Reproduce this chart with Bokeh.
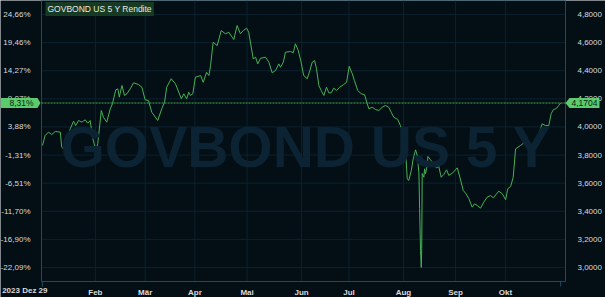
from bokeh.plotting import figure
from bokeh.models import (FixedTicker, LinearAxis, Range1d, Label, PolyAnnotation)
from bokeh.embed import file_html
from bokeh.resources import INLINE

# ---- data (trading-day index since 2023-12-29, yield in %) ----
day_idx = [1.7, 2.8, 4.2, 5.6, 7.1, 9.2, 9.8, 11.0, 11.9, 13.4, 14.8, 15.7, 16.9, 18.3,
           19.7, 20.8, 21.8, 22.8, 24.2, 25.0, 26.5, 27.4, 28.8, 30.3, 31.2, 32.6, 33.5,
           34.1, 35.2, 36.3, 37.3, 38.7, 40.1, 42.2, 43.6, 45.0, 46.4, 47.8, 50.3, 52.0,
           53.2, 54.1, 56.0, 57.8, 60.3, 61.3, 62.5, 63.4, 64.1, 65.1, 66.2, 68.4, 69.5,
           70.9, 71.9, 72.6, 73.7, 75.4, 77.1, 78.9, 80.3, 82.4, 83.8, 85.2, 86.4, 87.8,
           88.7, 90.6, 91.6, 92.5, 93.7, 95.8, 97.2, 98.6, 100.0, 101.4, 102.1, 103.3,
           104.2, 106.3, 107.5, 108.4, 109.6, 110.8, 111.9, 113.4, 114.5, 115.5, 116.5,
           117.3, 118.3, 119.3, 120.4, 121.5, 122.5, 123.5, 124.6, 125.7, 127.1, 128.6,
           130.0, 131.1, 132.4, 133.3, 134.7, 136.2, 137.6, 138.7, 139.4, 140.8, 142.2,
           143.6, 145.0, 146.4, 147.8, 148.8, 149.9, 151.6, 152.7, 154.1, 154.9, 155.6,
           156.2, 157.3, 158.1, 159.1, 159.8, 160.5, 160.8, 161.2, 161.5, 161.7, 161.9,
           162.6, 162.9, 163.3, 164.0, 164.3, 165.4, 166.8, 167.9, 168.9, 169.9, 171.0,
           172.2, 173.1, 174.6, 176.7, 177.8, 179.2, 180.2, 181.6, 183.0, 184.0, 185.1,
           186.5, 187.9, 189.3, 190.7, 191.9, 193.3, 194.2, 195.7, 197.1, 198.0, 199.2,
           200.3, 201.3, 203.4, 205.5, 206.5, 207.9, 209.3, 210.4, 211.1, 212.5, 213.9,
           215.3, 216.3, 217.2, 218.6, 219.5, 220.3]
yield_pct = [3.868, 3.939, 3.963, 3.946, 3.968, 3.963, 3.856, 3.837, 3.880, 3.987, 4.041,
             4.010, 4.046, 4.034, 4.051, 4.027, 4.046, 3.927, 3.832, 3.880, 4.117, 4.069,
             4.034, 4.129, 4.165, 4.264, 4.271, 4.212, 4.295, 4.224, 4.236, 4.271, 4.314,
             4.302, 4.283, 4.193, 4.188, 4.105, 4.046, 4.129, 4.176, 4.283, 4.343, 4.307,
             4.200, 4.236, 4.200, 4.247, 4.224, 4.236, 4.354, 4.366, 4.318, 4.389, 4.366,
             4.437, 4.603, 4.579, 4.686, 4.663, 4.674, 4.622, 4.722, 4.663, 4.686, 4.703,
             4.674, 4.485, 4.496, 4.449, 4.489, 4.496, 4.461, 4.385, 4.402, 4.449, 4.425,
             4.461, 4.532, 4.537, 4.528, 4.592, 4.544, 4.461, 4.366, 4.343, 4.402, 4.461,
             4.473, 4.414, 4.295, 4.259, 4.224, 4.283, 4.243, 4.243, 4.276, 4.259, 4.283,
             4.300, 4.318, 4.432, 4.378, 4.330, 4.259, 4.236, 4.229, 4.165, 4.129, 4.140,
             4.124, 4.117, 4.140, 4.153, 4.140, 4.105, 4.069, 4.053, 4.010, 3.939, 3.820,
             3.631, 3.619, 3.690, 3.773, 3.837, 3.797, 3.678, 3.420, 3.121, 3.000, 3.135,
             3.669, 3.642, 3.702, 3.667, 3.726, 3.790, 3.766, 3.738, 3.709, 3.719, 3.642,
             3.662, 3.695, 3.655, 3.671, 3.709, 3.642, 3.548, 3.529, 3.489, 3.429, 3.453,
             3.441, 3.422, 3.465, 3.500, 3.512, 3.496, 3.524, 3.543, 3.524, 3.482, 3.560,
             3.576, 3.642, 3.844, 3.868, 3.896, 3.891, 3.832, 3.891, 3.904, 3.951, 4.022,
             4.010, 4.010, 4.094, 4.122, 4.133, 4.153, 4.1704]

month_ticks = [24, 45, 66, 88, 111, 131, 154, 176, 197]
month_labels = ["Feb", "Mär", "Apr", "Mai", "Jun", "Jul", "Aug", "Sep", "Okt"]
start_label = "2023 Dez 29"

y_ticks = [3.0, 3.2, 3.4, 3.6, 3.8, 4.0, 4.2, 4.4, 4.6, 4.8]
y_labels_right = ["3,0000", "3,2000", "3,4000", "3,6000", "3,8000", "4,0000",
                  "4,2000", "4,4000", "4,6000", "4,8000"]
y_labels_left = ["-22,09%", "-16,90%", "-11,70%", "-6,51%", "-1,31%", "3,88%",
                 "9,07%", "14,27%", "19,46%", "24,66%"]

last_value = 4.1704
last_value_txt = "4,1704"
last_pct_txt = "8,31%"
title_txt = "GOVBOND US 5 Y Rendite"
watermark_txt = "GOVBOND US 5 Y"

# ---- styling ----
BG = "#030e15"
GRID = "#0c2230"
FRAME = "#1b4a63"
LINE = "#46b356"
MARK = "#5ccb6e"
TXT = "#dcdcdc"
FONT = "Liberation Sans"

W, H = 605, 297
LB, RB, TB, BB = 41, 40, 0, 16          # chart area inside the canvas
X0, X1 = 1.27, 222.36                    # data x at chart left / right
Y0, Y1 = 2.9, 4.9                        # data y at chart bottom / top
px_x = (X1 - X0) / (W - LB - RB)
px_y = (Y1 - Y0) / (H - TB - BB)
XMIN, XMAX = X0 - LB * px_x, X1 + RB * px_x
YMIN, YMAX = Y0 - BB * px_y, Y1 + TB * px_y


def sx(px):   # canvas pixel x -> data x
    return XMIN + px * px_x


def sy(py):   # canvas pixel y (from top) -> data y
    return YMAX - py * px_y


p = figure(width=W, height=H, output_backend="svg", toolbar_location=None,
           x_range=Range1d(XMIN, XMAX), y_range=Range1d(YMIN, YMAX),
           min_border_left=0, min_border_right=0, min_border_top=0,
           min_border_bottom=0, background_fill_color=BG, border_fill_color=BG,
           outline_line_color=None, x_axis_location=None, y_axis_location=None)
p.xgrid.visible = False
p.ygrid.visible = False

# grid lines limited to the chart area
p.segment(x0=[X0] * len(y_ticks), y0=y_ticks, x1=[X1] * len(y_ticks), y1=y_ticks,
          line_color=GRID, line_width=1)
p.segment(x0=month_ticks, y0=[Y0] * len(month_ticks), x1=month_ticks,
          y1=[Y1] * len(month_ticks), line_color=GRID, line_width=1)

# watermark
p.add_layout(Label(x=sx(60), y=sy(146), text=watermark_txt,
                   text_align="left", text_baseline="middle", text_font=FONT,
                   text_font_style="bold", text_font_size="57px",
                   text_color="#0b2333"))

# chart frame
p.quad(left=[X0], right=[X1], bottom=[Y0], top=[Y1], fill_color=None,
       line_color=FRAME, line_width=1)

# axes fixed at the chart edges
xa = LinearAxis(fixed_location=Y0)
xa.ticker = FixedTicker(ticks=month_ticks)
xa.major_label_overrides = {t: l for t, l in zip(month_ticks, month_labels)}
xa.axis_line_color = None
xa.major_tick_line_color = None
xa.minor_tick_line_color = None
xa.major_label_standoff = 0
xa.major_label_text_font = FONT
xa.major_label_text_font_size = "8px"
xa.major_label_text_font_style = "bold"
xa.major_label_text_color = TXT
p.add_layout(xa, "below")


def style_y(ax):
    ax.ticker = FixedTicker(ticks=y_ticks)
    ax.axis_line_color = None
    ax.major_tick_line_color = None
    ax.minor_tick_line_color = None
    ax.major_label_text_font = FONT
    ax.major_label_text_font_size = "8px"
    ax.major_label_text_color = TXT


la = LinearAxis(fixed_location=X0)
style_y(la)
la.major_label_overrides = {t: l for t, l in zip(y_ticks, y_labels_left)}
la.major_label_standoff = 5
p.add_layout(la, "left")

ra = LinearAxis(fixed_location=X1)
style_y(ra)
ra.major_label_overrides = {t: l for t, l in zip(y_ticks, y_labels_right)}
ra.major_label_standoff = 6
p.add_layout(ra, "right")

# first / last point ticks under the chart
p.segment(x0=[day_idx[0], day_idx[-1]], y0=[Y0, Y0],
          x1=[day_idx[0], day_idx[-1]], y1=[Y0 - 5 * px_y] * 2,
          line_color=FRAME, line_width=1)

# series
p.line(day_idx, yield_pct, line_color=LINE, line_width=1)

# current value line
p.segment(x0=[X0], y0=[last_value], x1=[X1], y1=[last_value], line_color=LINE,
          line_width=1, line_dash="2 1")

# left marker
hh = 5 * px_y
p.add_layout(PolyAnnotation(xs=[sx(0), sx(37), sx(40), sx(37), sx(0)],
                            ys=[last_value + hh, last_value + hh, last_value,
                                last_value - hh, last_value - hh],
                            fill_color=MARK, fill_alpha=1, line_color=None))
p.add_layout(Label(x=sx(21), y=last_value, text=last_pct_txt,
                   text_align="center", text_baseline="middle", text_font=FONT,
                   text_font_size="8.5px", text_color="#0a1f10"))

# right marker
p.add_layout(PolyAnnotation(xs=[sx(565), sx(569), sx(599), sx(599), sx(569)],
                            ys=[last_value, last_value + hh, last_value + hh,
                                last_value - hh, last_value - hh],
                            fill_color=MARK, fill_alpha=1, line_color=None))
p.add_layout(Label(x=sx(584), y=last_value, text=last_value_txt,
                   text_align="center", text_baseline="middle", text_font=FONT,
                   text_font_size="8.5px", text_color="#0a1f10"))

# title box with green underline
p.add_layout(Label(x=sx(45), y=sy(10), text=title_txt, text_baseline="middle",
                   text_font=FONT, text_font_size="8.5px", text_alpha=0,
                   background_fill_color=LINE, background_fill_alpha=1,
                   padding=2))
p.add_layout(Label(x=sx(45), y=sy(8.5), text=title_txt, text_baseline="middle",
                   text_font=FONT, text_font_size="8.5px", text_color="#e8e8e8",
                   background_fill_color="#163a22", background_fill_alpha=1,
                   padding=2))

# start date label
p.add_layout(Label(x=sx(47), y=sy(290), text=start_label,
                   text_align="right", text_baseline="middle", text_font=FONT,
                   text_font_size="8px", text_font_style="bold", text_color=TXT))

open("out.html", "w").write(file_html(p, INLINE))
